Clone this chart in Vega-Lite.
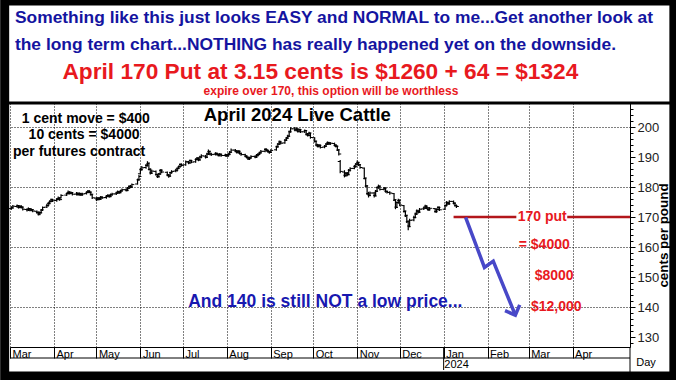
{
  "$schema": "https://vega.github.io/schema/vega-lite/v6.json",
  "width": 620,
  "height": 244,
  "autosize": {"type": "none"},
  "padding": {"left": 10, "top": 103, "right": 46, "bottom": 33},
  "background": "white",
  "config": {"view": {"stroke": null}, "font": "Liberation Sans"},
  "resolve": {"axis": {"y": "independent"}},
  "datasets": {
    "bars": [
      {"d":"2023-03-02","o":172.8,"h":173.6,"l":172.4,"c":173.0},
      {"d":"2023-03-03","o":173.1,"h":174.0,"l":172.8,"c":173.6},
      {"d":"2023-03-06","o":173.5,"h":174.2,"l":173.1,"c":173.8},
      {"d":"2023-03-07","o":173.7,"h":174.0,"l":172.8,"c":173.2},
      {"d":"2023-03-08","o":173.2,"h":173.9,"l":172.9,"c":173.5},
      {"d":"2023-03-09","o":173.6,"h":173.9,"l":172.8,"c":173.3},
      {"d":"2023-03-10","o":173.2,"h":173.5,"l":172.2,"c":172.6},
      {"d":"2023-03-13","o":172.5,"h":172.9,"l":171.8,"c":172.4},
      {"d":"2023-03-14","o":172.4,"h":173.2,"l":172.0,"c":172.8},
      {"d":"2023-03-15","o":172.7,"h":173.0,"l":171.9,"c":172.3},
      {"d":"2023-03-16","o":172.3,"h":172.9,"l":171.9,"c":172.5},
      {"d":"2023-03-17","o":172.4,"h":172.7,"l":171.6,"c":172.0},
      {"d":"2023-03-20","o":171.9,"h":172.2,"l":171.1,"c":171.6},
      {"d":"2023-03-21","o":171.5,"h":171.8,"l":170.5,"c":171.0},
      {"d":"2023-03-22","o":171.0,"h":171.8,"l":170.6,"c":171.4},
      {"d":"2023-03-23","o":171.5,"h":172.7,"l":171.2,"c":172.4},
      {"d":"2023-03-24","o":172.3,"h":173.5,"l":172.0,"c":173.2},
      {"d":"2023-03-27","o":173.3,"h":174.4,"l":173.0,"c":173.8},
      {"d":"2023-03-28","o":173.8,"h":175.0,"l":173.5,"c":174.6},
      {"d":"2023-03-29","o":174.5,"h":175.6,"l":174.2,"c":175.2},
      {"d":"2023-03-30","o":175.2,"h":176.2,"l":174.9,"c":175.8},
      {"d":"2023-03-31","o":175.7,"h":176.1,"l":175.0,"c":175.4},
      {"d":"2023-04-03","o":175.5,"h":176.3,"l":175.1,"c":175.9},
      {"d":"2023-04-04","o":175.9,"h":176.8,"l":175.6,"c":176.3},
      {"d":"2023-04-05","o":176.2,"h":176.5,"l":175.4,"c":175.8},
      {"d":"2023-04-06","o":176.4,"h":177.6,"l":176.2,"c":177.2},
      {"d":"2023-04-10","o":177.3,"h":178.2,"l":177.0,"c":177.8},
      {"d":"2023-04-11","o":177.8,"h":178.8,"l":177.5,"c":178.3},
      {"d":"2023-04-12","o":178.2,"h":178.6,"l":177.5,"c":177.9},
      {"d":"2023-04-13","o":177.9,"h":178.5,"l":177.6,"c":178.1},
      {"d":"2023-04-14","o":178.0,"h":178.3,"l":177.2,"c":177.6},
      {"d":"2023-04-17","o":177.6,"h":178.3,"l":177.2,"c":177.9},
      {"d":"2023-04-18","o":177.9,"h":178.2,"l":177.1,"c":177.5},
      {"d":"2023-04-19","o":177.5,"h":178.2,"l":177.1,"c":177.8},
      {"d":"2023-04-20","o":177.8,"h":178.1,"l":177.0,"c":177.4},
      {"d":"2023-04-21","o":177.4,"h":178.1,"l":177.1,"c":177.7},
      {"d":"2023-04-24","o":177.8,"h":178.6,"l":177.5,"c":178.2},
      {"d":"2023-04-25","o":178.2,"h":179.0,"l":177.9,"c":178.6},
      {"d":"2023-04-26","o":178.6,"h":178.9,"l":177.9,"c":178.3},
      {"d":"2023-04-27","o":178.2,"h":178.5,"l":177.2,"c":177.6},
      {"d":"2023-04-28","o":177.4,"h":177.6,"l":176.0,"c":176.4},
      {"d":"2023-05-01","o":176.3,"h":176.6,"l":175.3,"c":175.8},
      {"d":"2023-05-02","o":175.9,"h":176.7,"l":175.5,"c":176.3},
      {"d":"2023-05-03","o":176.3,"h":176.6,"l":175.6,"c":176.0},
      {"d":"2023-05-04","o":176.0,"h":177.0,"l":175.7,"c":176.6},
      {"d":"2023-05-05","o":176.6,"h":176.9,"l":176.0,"c":176.4},
      {"d":"2023-05-08","o":176.5,"h":177.3,"l":176.1,"c":176.9},
      {"d":"2023-05-09","o":176.9,"h":177.6,"l":176.6,"c":177.2},
      {"d":"2023-05-10","o":177.2,"h":177.5,"l":176.4,"c":176.8},
      {"d":"2023-05-11","o":176.9,"h":177.8,"l":176.6,"c":177.4},
      {"d":"2023-05-12","o":177.4,"h":178.1,"l":177.1,"c":177.7},
      {"d":"2023-05-15","o":177.7,"h":178.4,"l":177.3,"c":178.0},
      {"d":"2023-05-16","o":178.0,"h":178.8,"l":177.7,"c":178.4},
      {"d":"2023-05-17","o":178.4,"h":178.7,"l":177.7,"c":178.1},
      {"d":"2023-05-18","o":178.2,"h":179.1,"l":177.9,"c":178.7},
      {"d":"2023-05-19","o":178.7,"h":179.5,"l":178.4,"c":179.1},
      {"d":"2023-05-22","o":179.1,"h":179.6,"l":178.5,"c":178.9},
      {"d":"2023-05-23","o":178.9,"h":180.0,"l":178.6,"c":179.6},
      {"d":"2023-05-24","o":179.6,"h":180.6,"l":179.3,"c":180.2},
      {"d":"2023-05-25","o":180.2,"h":180.7,"l":179.6,"c":180.0},
      {"d":"2023-05-26","o":180.0,"h":181.2,"l":179.7,"c":180.8},
      {"d":"2023-05-30","o":181.0,"h":182.8,"l":180.8,"c":182.4},
      {"d":"2023-05-31","o":182.4,"h":184.0,"l":182.1,"c":183.5},
      {"d":"2023-06-01","o":184.4,"h":186.3,"l":184.2,"c":185.8},
      {"d":"2023-06-02","o":185.8,"h":187.0,"l":185.4,"c":186.4},
      {"d":"2023-06-05","o":186.5,"h":187.7,"l":186.1,"c":187.2},
      {"d":"2023-06-06","o":187.2,"h":188.6,"l":186.8,"c":188.0},
      {"d":"2023-06-07","o":187.8,"h":188.0,"l":185.6,"c":186.0},
      {"d":"2023-06-08","o":185.8,"h":186.2,"l":184.2,"c":184.6},
      {"d":"2023-06-09","o":184.7,"h":185.8,"l":184.3,"c":185.3},
      {"d":"2023-06-12","o":185.2,"h":185.5,"l":183.8,"c":184.2},
      {"d":"2023-06-13","o":184.1,"h":184.4,"l":183.0,"c":183.4},
      {"d":"2023-06-14","o":183.5,"h":184.7,"l":183.2,"c":184.3},
      {"d":"2023-06-15","o":184.4,"h":186.0,"l":184.1,"c":185.6},
      {"d":"2023-06-16","o":185.5,"h":185.9,"l":184.6,"c":185.0},
      {"d":"2023-06-20","o":184.9,"h":185.2,"l":183.6,"c":184.0},
      {"d":"2023-06-21","o":184.0,"h":184.3,"l":183.1,"c":183.6},
      {"d":"2023-06-22","o":183.7,"h":185.1,"l":183.4,"c":184.8},
      {"d":"2023-06-23","o":184.8,"h":185.6,"l":184.4,"c":185.2},
      {"d":"2023-06-26","o":185.3,"h":186.1,"l":184.9,"c":185.6},
      {"d":"2023-06-27","o":185.6,"h":186.6,"l":185.2,"c":186.2},
      {"d":"2023-06-28","o":186.2,"h":187.2,"l":185.9,"c":186.8},
      {"d":"2023-06-29","o":186.8,"h":187.9,"l":186.4,"c":187.5},
      {"d":"2023-06-30","o":187.5,"h":187.9,"l":186.8,"c":187.2},
      {"d":"2023-07-03","o":187.4,"h":188.8,"l":187.1,"c":188.4},
      {"d":"2023-07-05","o":188.4,"h":188.7,"l":187.6,"c":188.0},
      {"d":"2023-07-06","o":188.1,"h":189.2,"l":187.8,"c":188.8},
      {"d":"2023-07-07","o":188.8,"h":189.1,"l":187.9,"c":188.3},
      {"d":"2023-07-10","o":188.4,"h":189.6,"l":188.1,"c":189.2},
      {"d":"2023-07-11","o":189.2,"h":190.0,"l":188.8,"c":189.6},
      {"d":"2023-07-12","o":189.6,"h":189.9,"l":188.6,"c":189.0},
      {"d":"2023-07-13","o":189.1,"h":190.4,"l":188.8,"c":190.0},
      {"d":"2023-07-14","o":190.0,"h":190.9,"l":189.6,"c":190.4},
      {"d":"2023-07-17","o":190.3,"h":190.7,"l":189.5,"c":189.9},
      {"d":"2023-07-18","o":190.0,"h":191.4,"l":189.7,"c":191.0},
      {"d":"2023-07-19","o":191.0,"h":192.5,"l":190.7,"c":191.9},
      {"d":"2023-07-20","o":191.8,"h":192.1,"l":190.6,"c":191.0},
      {"d":"2023-07-21","o":191.0,"h":191.4,"l":190.3,"c":190.8},
      {"d":"2023-07-24","o":190.9,"h":191.6,"l":190.5,"c":191.2},
      {"d":"2023-07-25","o":191.2,"h":191.5,"l":190.5,"c":190.9},
      {"d":"2023-07-26","o":190.9,"h":191.2,"l":190.2,"c":190.6},
      {"d":"2023-07-27","o":190.6,"h":191.3,"l":190.2,"c":190.9},
      {"d":"2023-07-28","o":190.9,"h":191.2,"l":190.1,"c":190.5},
      {"d":"2023-07-31","o":190.5,"h":191.1,"l":190.1,"c":190.7},
      {"d":"2023-08-01","o":190.7,"h":191.0,"l":190.0,"c":190.4},
      {"d":"2023-08-02","o":190.4,"h":191.3,"l":190.1,"c":190.9},
      {"d":"2023-08-03","o":190.9,"h":192.0,"l":190.6,"c":191.6},
      {"d":"2023-08-04","o":191.6,"h":192.8,"l":191.3,"c":192.3},
      {"d":"2023-08-07","o":192.3,"h":192.7,"l":191.6,"c":192.0},
      {"d":"2023-08-08","o":192.0,"h":192.3,"l":191.2,"c":191.6},
      {"d":"2023-08-09","o":191.6,"h":192.3,"l":191.2,"c":191.9},
      {"d":"2023-08-10","o":191.9,"h":192.2,"l":190.8,"c":191.2},
      {"d":"2023-08-11","o":191.2,"h":191.5,"l":190.4,"c":190.8},
      {"d":"2023-08-14","o":190.8,"h":191.1,"l":189.9,"c":190.3},
      {"d":"2023-08-15","o":190.3,"h":190.6,"l":189.5,"c":189.9},
      {"d":"2023-08-16","o":189.9,"h":190.2,"l":189.0,"c":189.4},
      {"d":"2023-08-17","o":189.4,"h":190.1,"l":189.0,"c":189.7},
      {"d":"2023-08-18","o":189.7,"h":190.6,"l":189.4,"c":190.2},
      {"d":"2023-08-21","o":190.2,"h":190.6,"l":189.6,"c":190.0},
      {"d":"2023-08-22","o":190.0,"h":191.0,"l":189.7,"c":190.6},
      {"d":"2023-08-23","o":190.6,"h":191.3,"l":190.2,"c":190.9},
      {"d":"2023-08-24","o":190.9,"h":191.8,"l":190.6,"c":191.4},
      {"d":"2023-08-25","o":191.4,"h":192.3,"l":191.1,"c":191.9},
      {"d":"2023-08-28","o":191.9,"h":193.0,"l":191.6,"c":192.5},
      {"d":"2023-08-29","o":192.5,"h":192.9,"l":191.8,"c":192.2},
      {"d":"2023-08-30","o":192.2,"h":192.5,"l":191.4,"c":191.8},
      {"d":"2023-08-31","o":191.8,"h":192.1,"l":191.1,"c":191.5},
      {"d":"2023-09-01","o":191.6,"h":192.6,"l":191.3,"c":192.2},
      {"d":"2023-09-05","o":192.4,"h":193.8,"l":192.1,"c":193.4},
      {"d":"2023-09-06","o":193.4,"h":194.7,"l":193.1,"c":194.3},
      {"d":"2023-09-07","o":194.3,"h":195.5,"l":194.0,"c":195.0},
      {"d":"2023-09-08","o":195.0,"h":195.4,"l":194.2,"c":194.6},
      {"d":"2023-09-11","o":194.7,"h":196.0,"l":194.4,"c":195.6},
      {"d":"2023-09-12","o":195.6,"h":196.7,"l":195.3,"c":196.3},
      {"d":"2023-09-13","o":196.3,"h":197.4,"l":196.0,"c":196.9},
      {"d":"2023-09-14","o":197.0,"h":198.8,"l":196.8,"c":198.4},
      {"d":"2023-09-15","o":198.4,"h":199.9,"l":198.1,"c":199.4},
      {"d":"2023-09-18","o":199.4,"h":200.0,"l":198.6,"c":199.0},
      {"d":"2023-09-19","o":199.0,"h":199.8,"l":198.6,"c":199.3},
      {"d":"2023-09-20","o":199.3,"h":199.6,"l":198.2,"c":198.6},
      {"d":"2023-09-21","o":198.6,"h":199.5,"l":198.2,"c":199.1},
      {"d":"2023-09-22","o":199.1,"h":199.4,"l":198.0,"c":198.4},
      {"d":"2023-09-25","o":198.4,"h":199.2,"l":198.0,"c":198.8},
      {"d":"2023-09-26","o":198.8,"h":199.0,"l":197.2,"c":197.6},
      {"d":"2023-09-27","o":197.6,"h":198.0,"l":196.8,"c":197.2},
      {"d":"2023-09-28","o":197.3,"h":198.4,"l":196.9,"c":198.0},
      {"d":"2023-09-29","o":197.9,"h":198.1,"l":196.1,"c":196.5},
      {"d":"2023-10-02","o":196.4,"h":196.6,"l":194.8,"c":195.3},
      {"d":"2023-10-03","o":195.2,"h":195.4,"l":193.6,"c":194.0},
      {"d":"2023-10-04","o":194.0,"h":194.4,"l":193.2,"c":193.6},
      {"d":"2023-10-05","o":193.6,"h":194.3,"l":193.2,"c":193.9},
      {"d":"2023-10-06","o":193.9,"h":194.2,"l":192.8,"c":193.2},
      {"d":"2023-10-09","o":193.3,"h":194.0,"l":192.9,"c":193.6},
      {"d":"2023-10-10","o":193.6,"h":194.7,"l":193.3,"c":194.3},
      {"d":"2023-10-11","o":194.3,"h":195.2,"l":194.0,"c":194.8},
      {"d":"2023-10-12","o":194.8,"h":195.1,"l":194.0,"c":194.4},
      {"d":"2023-10-13","o":194.4,"h":195.0,"l":194.0,"c":194.6},
      {"d":"2023-10-16","o":194.5,"h":194.8,"l":193.5,"c":193.9},
      {"d":"2023-10-17","o":193.9,"h":194.3,"l":193.2,"c":193.6},
      {"d":"2023-10-18","o":193.5,"h":193.8,"l":192.0,"c":192.4},
      {"d":"2023-10-19","o":192.3,"h":192.5,"l":190.5,"c":191.0},
      {"d":"2023-10-20","o":188.5,"h":189.0,"l":184.6,"c":185.2},
      {"d":"2023-10-23","o":185.0,"h":185.6,"l":183.2,"c":183.8},
      {"d":"2023-10-24","o":183.9,"h":185.0,"l":183.4,"c":184.6},
      {"d":"2023-10-25","o":184.6,"h":185.0,"l":183.6,"c":184.1},
      {"d":"2023-10-26","o":184.2,"h":186.0,"l":183.9,"c":185.6},
      {"d":"2023-10-27","o":185.6,"h":186.6,"l":185.2,"c":186.2},
      {"d":"2023-10-30","o":186.2,"h":187.3,"l":185.9,"c":186.8},
      {"d":"2023-10-31","o":186.8,"h":188.0,"l":186.4,"c":187.6},
      {"d":"2023-11-01","o":187.6,"h":188.8,"l":187.2,"c":188.2},
      {"d":"2023-11-02","o":188.1,"h":188.4,"l":187.0,"c":187.4},
      {"d":"2023-11-03","o":187.4,"h":187.7,"l":186.1,"c":186.5},
      {"d":"2023-11-06","o":186.3,"h":186.5,"l":182.6,"c":183.0},
      {"d":"2023-11-07","o":182.8,"h":183.1,"l":180.0,"c":180.4},
      {"d":"2023-11-08","o":180.3,"h":180.6,"l":177.3,"c":177.8},
      {"d":"2023-11-09","o":177.8,"h":178.4,"l":176.5,"c":177.2},
      {"d":"2023-11-10","o":177.3,"h":178.5,"l":176.9,"c":178.0},
      {"d":"2023-11-13","o":178.0,"h":178.3,"l":176.5,"c":177.0},
      {"d":"2023-11-14","o":177.2,"h":179.0,"l":176.9,"c":178.6},
      {"d":"2023-11-15","o":178.6,"h":180.2,"l":178.3,"c":179.8},
      {"d":"2023-11-16","o":179.8,"h":180.8,"l":179.4,"c":180.3},
      {"d":"2023-11-17","o":180.2,"h":180.5,"l":178.8,"c":179.2},
      {"d":"2023-11-20","o":179.2,"h":180.0,"l":178.8,"c":179.6},
      {"d":"2023-11-21","o":179.6,"h":179.9,"l":178.1,"c":178.5},
      {"d":"2023-11-22","o":178.5,"h":178.9,"l":177.8,"c":178.2},
      {"d":"2023-11-24","o":178.2,"h":178.6,"l":177.4,"c":178.0},
      {"d":"2023-11-27","o":177.8,"h":178.0,"l":175.3,"c":175.8},
      {"d":"2023-11-28","o":175.6,"h":175.8,"l":172.6,"c":173.2},
      {"d":"2023-11-29","o":173.3,"h":175.2,"l":173.0,"c":174.8},
      {"d":"2023-11-30","o":174.8,"h":176.1,"l":174.4,"c":175.6},
      {"d":"2023-12-01","o":175.5,"h":175.8,"l":173.6,"c":174.0},
      {"d":"2023-12-04","o":173.8,"h":174.0,"l":171.5,"c":172.0},
      {"d":"2023-12-05","o":171.8,"h":172.1,"l":170.0,"c":170.6},
      {"d":"2023-12-06","o":170.4,"h":170.7,"l":168.0,"c":168.6},
      {"d":"2023-12-07","o":168.4,"h":168.8,"l":165.6,"c":166.8},
      {"d":"2023-12-08","o":167.0,"h":169.4,"l":166.6,"c":168.9},
      {"d":"2023-12-11","o":169.0,"h":170.4,"l":168.6,"c":169.8},
      {"d":"2023-12-12","o":169.9,"h":171.5,"l":169.6,"c":171.0},
      {"d":"2023-12-13","o":171.0,"h":172.5,"l":170.7,"c":172.0},
      {"d":"2023-12-14","o":172.0,"h":172.4,"l":171.2,"c":171.6},
      {"d":"2023-12-15","o":171.7,"h":173.0,"l":171.4,"c":172.6},
      {"d":"2023-12-18","o":172.7,"h":173.5,"l":172.3,"c":173.0},
      {"d":"2023-12-19","o":173.0,"h":174.1,"l":172.7,"c":173.6},
      {"d":"2023-12-20","o":173.6,"h":173.9,"l":172.6,"c":173.0},
      {"d":"2023-12-21","o":173.0,"h":173.3,"l":172.0,"c":172.4},
      {"d":"2023-12-22","o":172.5,"h":173.3,"l":172.1,"c":172.9},
      {"d":"2023-12-26","o":172.8,"h":173.0,"l":171.4,"c":171.8},
      {"d":"2023-12-27","o":171.8,"h":172.9,"l":171.4,"c":172.5},
      {"d":"2023-12-28","o":172.5,"h":173.6,"l":172.2,"c":173.2},
      {"d":"2023-12-29","o":173.2,"h":173.5,"l":172.0,"c":172.4},
      {"d":"2024-01-02","o":172.6,"h":174.2,"l":172.3,"c":173.8},
      {"d":"2024-01-03","o":173.8,"h":175.3,"l":173.5,"c":174.8},
      {"d":"2024-01-04","o":174.8,"h":175.2,"l":174.0,"c":174.4},
      {"d":"2024-01-05","o":174.4,"h":175.6,"l":174.1,"c":175.2},
      {"d":"2024-01-08","o":175.2,"h":175.5,"l":174.2,"c":174.6},
      {"d":"2024-01-09","o":174.6,"h":174.9,"l":173.4,"c":173.8},
      {"d":"2024-01-10","o":173.9,"h":174.2,"l":173.0,"c":173.5}
    ],
    "putline": [
      {"d":"2024-01-08T00:00:00Z","d2":"2024-02-21T07:00:00Z","v":170},
      {"d":"2024-03-28T05:00:00Z","d2":"2024-05-11T12:00:00Z","v":170}
    ],
    "arrow": [
      {"k":1,"d":"2024-01-16T12:00:00Z","v":169.9},
      {"k":2,"d":"2024-01-29T19:00:00Z","v":153.2},
      {"k":3,"d":"2024-02-05T00:00:00Z","v":155.3},
      {"k":4,"d":"2024-02-20T14:00:00Z","v":137.3}
    ],
    "arrowtip": [
      {"d":"2024-02-20T14:00:00Z","v":137.3}
    ],
    "headBlue": [
      {"d":"2023-03-04T12:00:00Z","v":236.33,"t":"Something like this just looks EASY and NORMAL to me...Get another look at"},
      {"d":"2023-03-04T12:00:00Z","v":227.33,"t":"the long term chart...NOTHING has really happened yet on the downside."}
    ],
    "headRed": [
      {"d":"2023-10-06T00:00:00Z","v":218.33,"t":"April 170 Put at 3.15 cents is $1260 + 64 = $1324"}
    ],
    "headRedSmall": [
      {"d":"2023-10-13T12:00:00Z","v":212.0,"t":"expire over 170, this option will be worthless"}
    ],
    "notes": [
      {"d":"2023-04-23T12:00:00Z","v":202.67,"t":"1 cent move = $400"},
      {"d":"2023-04-22T06:00:00Z","v":197.33,"t":"10 cents = $4000"},
      {"d":"2023-04-18T18:00:00Z","v":191.67,"t":"per futures contract"}
    ],
    "chartTitle": [
      {"d":"2023-09-19T18:00:00Z","v":204,"t":"April 2024 Live Cattle"}
    ],
    "redNotes": [
      {"d":"2024-03-10T14:00:00Z","v":170,"t":"170 put"},
      {"d":"2024-03-12T00:00:00Z","v":160.67,"t":"= $4000"},
      {"d":"2024-03-19T00:00:00Z","v":150.2,"t":"$8000"},
      {"d":"2024-03-20T10:00:00Z","v":140.1,"t":"$12,000"}
    ],
    "blueNote": [
      {"d":"2023-10-09T12:00:00Z","v":141.67,"t":"And 140 is still NOT a low price..."}
    ],
    "smallLeft": [
      {"d":"2024-01-01T12:00:00Z","v":120.67,"t":"2024"}
    ],
    "smallCenter": [
      {"d":"2024-05-22T19:00:00Z","v":121.5,"t":"Day"}
    ],
    "thinLines": [
      {"d":"2023-03-01T00:00:00Z","d2":"2024-05-11T12:00:00Z","v":123,"v2":123},
      {"d":"2024-01-01T00:00:00Z","d2":"2024-01-01T00:00:00Z","v":126.67,"v2":119},
      {"d":"2024-05-11T12:00:00Z","d2":"2024-05-11T12:00:00Z","v":126.67,"v2":117}
    ],
    "sepLine": [
      {"d":"2023-02-25T00:00:00Z","d2":"2024-06-11T11:00:00Z","v":208,"v2":208}
    ],
    "frame": [
      {"d":"2023-02-25T06:00:00Z","d2":"2024-06-11T11:00:00Z","v":242,"v2":117}
    ]
  },
  "layer": [
    {
      "data": {"name": "bars"},
      "mark": {"type": "rule", "color": "#000", "strokeWidth": 1.2},
      "encoding": {
        "x": {
          "field": "d", "type": "temporal",
          "scale": {"type": "utc", "nice": false, "domain": [{"year": 2023, "month": 3, "date": 1, "utc": true}, {"year": 2024, "month": 5, "date": 11, "hours": 12, "utc": true}]},
          "axis": {
            "orient": "bottom", "title": null,
            "values": [
              {"year": 2023, "month": 3, "date": 1, "utc": true},
              {"year": 2023, "month": 4, "date": 1, "utc": true},
              {"year": 2023, "month": 5, "date": 1, "utc": true},
              {"year": 2023, "month": 6, "date": 1, "utc": true},
              {"year": 2023, "month": 7, "date": 1, "utc": true},
              {"year": 2023, "month": 8, "date": 1, "utc": true},
              {"year": 2023, "month": 9, "date": 1, "utc": true},
              {"year": 2023, "month": 10, "date": 1, "utc": true},
              {"year": 2023, "month": 11, "date": 1, "utc": true},
              {"year": 2023, "month": 12, "date": 1, "utc": true},
              {"year": 2024, "month": 1, "date": 1, "utc": true},
              {"year": 2024, "month": 2, "date": 1, "utc": true},
              {"year": 2024, "month": 3, "date": 1, "utc": true},
              {"year": 2024, "month": 4, "date": 1, "utc": true}
            ],
            "labelExpr": "utcFormat(datum.value, '%b')",
            "labelAlign": "left", "labelBaseline": "top", "labelOffset": 2, "labelPadding": -10,
            "labelFont": "Liberation Sans", "labelFontSize": 11, "labelColor": "#000",
            "labelOverlap": false, "labelFlush": false, "labelBound": false,
            "tickSize": 11, "tickColor": "#000", "tickWidth": 1,
            "domainColor": "#000", "domainWidth": 1,
            "grid": true, "gridColor": "#000", "gridDash": [1, 2], "gridWidth": 1
          }
        },
        "y": {
          "field": "l", "type": "quantitative",
          "scale": {"domain": [126.667, 208], "nice": false, "zero": false},
          "axis": {
            "orient": "right", "title": "cents per pound",
            "values": [130, 140, 150, 160, 170, 180, 190, 200],
            "labelFont": "Liberation Sans", "labelFontSize": 13, "labelColor": "#222", "labelPadding": 2,
            "labelOverlap": false,
            "tickSize": 5, "tickColor": "#000", "domainColor": "#000",
            "grid": false,
            "titleFont": "Liberation Sans", "titleFontSize": 13.4, "titleFontWeight": "bold", "titleColor": "#000",
            "titleAngle": 270, "titleX": 33, "titleY": 132, "titleAlign": "center", "titleBaseline": "middle"
          }
        },
        "y2": {"field": "h"}
      }
    },
    {
      "data": {"name": "bars"},
      "mark": {"type": "tick", "orient": "horizontal", "size": 2.5, "thickness": 1, "xOffset": -1.2, "color": "#000", "opacity": 1},
      "encoding": {
        "x": {"field": "d", "type": "temporal"},
        "y": {
          "field": "o", "type": "quantitative",
          "axis": {
            "orient": "right", "title": null,
            "values": [128,130,132,134,136,138,140,142,144,146,148,150,152,154,156,158,160,162,164,166,168,170,172,174,176,178,180,182,184,186,188,190,192,194,196,198,200,202,204,206],
            "labels": false, "domain": false, "grid": false,
            "ticks": true, "tickSize": 3, "tickColor": "#000"
          }
        }
      }
    },
    {
      "data": {"name": "bars"},
      "mark": {"type": "tick", "orient": "horizontal", "size": 2.5, "thickness": 1, "xOffset": 1.2, "color": "#000", "opacity": 1},
      "encoding": {
        "x": {"field": "d", "type": "temporal"},
        "y": {
          "field": "c", "type": "quantitative",
          "axis": {
            "orient": "right", "title": null,
            "values": [140, 160, 180, 200],
            "labels": false, "domain": false, "ticks": false,
            "grid": true, "gridColor": "#000", "gridDash": [1, 2], "gridWidth": 1
          }
        }
      }
    },
    {
      "data": {"name": "putline"},
      "mark": {"type": "rule", "color": "#b3161b", "strokeWidth": 2.5},
      "encoding": {
        "x": {"field": "d", "type": "temporal"},
        "x2": {"field": "d2"},
        "y": {"field": "v", "type": "quantitative", "axis": null}
      }
    },
    {
      "data": {"name": "arrow"},
      "mark": {"type": "line", "color": "#4848c8", "strokeWidth": 3.5, "strokeJoin": "miter"},
      "encoding": {
        "x": {"field": "d", "type": "temporal"},
        "y": {"field": "v", "type": "quantitative", "axis": null},
        "order": {"field": "k", "type": "quantitative"}
      }
    },
    {
      "data": {"name": "arrowtip"},
      "mark": {"type": "point", "shape": "M-1,-1L0,0L1,-1", "filled": false, "color": "#4848c8", "strokeWidth": 3.5, "size": 250, "angle": -22, "opacity": 1},
      "encoding": {
        "x": {"field": "d", "type": "temporal"},
        "y": {"field": "v", "type": "quantitative", "axis": null}
      }
    },
    {
      "data": {"name": "headBlue"},
      "mark": {"type": "text", "align": "left", "baseline": "middle", "font": "Liberation Sans", "fontSize": 17.4, "fontWeight": "bold", "color": "#1414a0"},
      "encoding": {
        "x": {"field": "d", "type": "temporal"},
        "y": {"field": "v", "type": "quantitative", "axis": null},
        "text": {"field": "t"}
      }
    },
    {
      "data": {"name": "headRed"},
      "mark": {"type": "text", "align": "center", "baseline": "middle", "font": "Liberation Sans", "fontSize": 22.7, "fontWeight": "bold", "color": "#e8191e"},
      "encoding": {
        "x": {"field": "d", "type": "temporal"},
        "y": {"field": "v", "type": "quantitative", "axis": null},
        "text": {"field": "t"}
      }
    },
    {
      "data": {"name": "headRedSmall"},
      "mark": {"type": "text", "align": "center", "baseline": "middle", "font": "Liberation Sans", "fontSize": 12, "fontWeight": "bold", "color": "#e8191e"},
      "encoding": {
        "x": {"field": "d", "type": "temporal"},
        "y": {"field": "v", "type": "quantitative", "axis": null},
        "text": {"field": "t"}
      }
    },
    {
      "data": {"name": "notes"},
      "mark": {"type": "text", "align": "center", "baseline": "middle", "font": "Liberation Sans", "fontSize": 14, "fontWeight": "bold", "color": "#000"},
      "encoding": {
        "x": {"field": "d", "type": "temporal"},
        "y": {"field": "v", "type": "quantitative", "axis": null},
        "text": {"field": "t"}
      }
    },
    {
      "data": {"name": "chartTitle"},
      "mark": {"type": "text", "align": "center", "baseline": "middle", "font": "Liberation Sans", "fontSize": 18.5, "fontWeight": "bold", "color": "#000"},
      "encoding": {
        "x": {"field": "d", "type": "temporal"},
        "y": {"field": "v", "type": "quantitative", "axis": null},
        "text": {"field": "t"}
      }
    },
    {
      "data": {"name": "redNotes"},
      "mark": {"type": "text", "align": "center", "baseline": "middle", "font": "Liberation Sans", "fontSize": 14, "fontWeight": "bold", "color": "#e8191e"},
      "encoding": {
        "x": {"field": "d", "type": "temporal"},
        "y": {"field": "v", "type": "quantitative", "axis": null},
        "text": {"field": "t"}
      }
    },
    {
      "data": {"name": "blueNote"},
      "mark": {"type": "text", "align": "center", "baseline": "middle", "font": "Liberation Sans", "fontSize": 17.5, "fontWeight": "bold", "color": "#1818b0"},
      "encoding": {
        "x": {"field": "d", "type": "temporal"},
        "y": {"field": "v", "type": "quantitative", "axis": null},
        "text": {"field": "t"}
      }
    },
    {
      "data": {"name": "smallLeft"},
      "mark": {"type": "text", "align": "left", "baseline": "middle", "font": "Liberation Sans", "fontSize": 11, "color": "#000"},
      "encoding": {
        "x": {"field": "d", "type": "temporal"},
        "y": {"field": "v", "type": "quantitative", "axis": null},
        "text": {"field": "t"}
      }
    },
    {
      "data": {"name": "smallCenter"},
      "mark": {"type": "text", "align": "center", "baseline": "middle", "font": "Liberation Sans", "fontSize": 11, "color": "#000"},
      "encoding": {
        "x": {"field": "d", "type": "temporal"},
        "y": {"field": "v", "type": "quantitative", "axis": null},
        "text": {"field": "t"}
      }
    },
    {
      "data": {"name": "thinLines"},
      "mark": {"type": "rule", "color": "#000", "strokeWidth": 1},
      "encoding": {
        "x": {"field": "d", "type": "temporal"},
        "x2": {"field": "d2"},
        "y": {"field": "v", "type": "quantitative", "axis": null},
        "y2": {"field": "v2"}
      }
    },
    {
      "data": {"name": "sepLine"},
      "mark": {"type": "rule", "color": "#000", "strokeWidth": 3},
      "encoding": {
        "x": {"field": "d", "type": "temporal"},
        "x2": {"field": "d2"},
        "y": {"field": "v", "type": "quantitative", "axis": null},
        "y2": {"field": "v2"}
      }
    },
    {
      "data": {"name": "frame"},
      "mark": {"type": "rect", "filled": false, "color": "#000", "strokeWidth": 9},
      "encoding": {
        "x": {"field": "d", "type": "temporal"},
        "x2": {"field": "d2"},
        "y": {"field": "v", "type": "quantitative", "axis": null},
        "y2": {"field": "v2"}
      }
    }
  ]
}
